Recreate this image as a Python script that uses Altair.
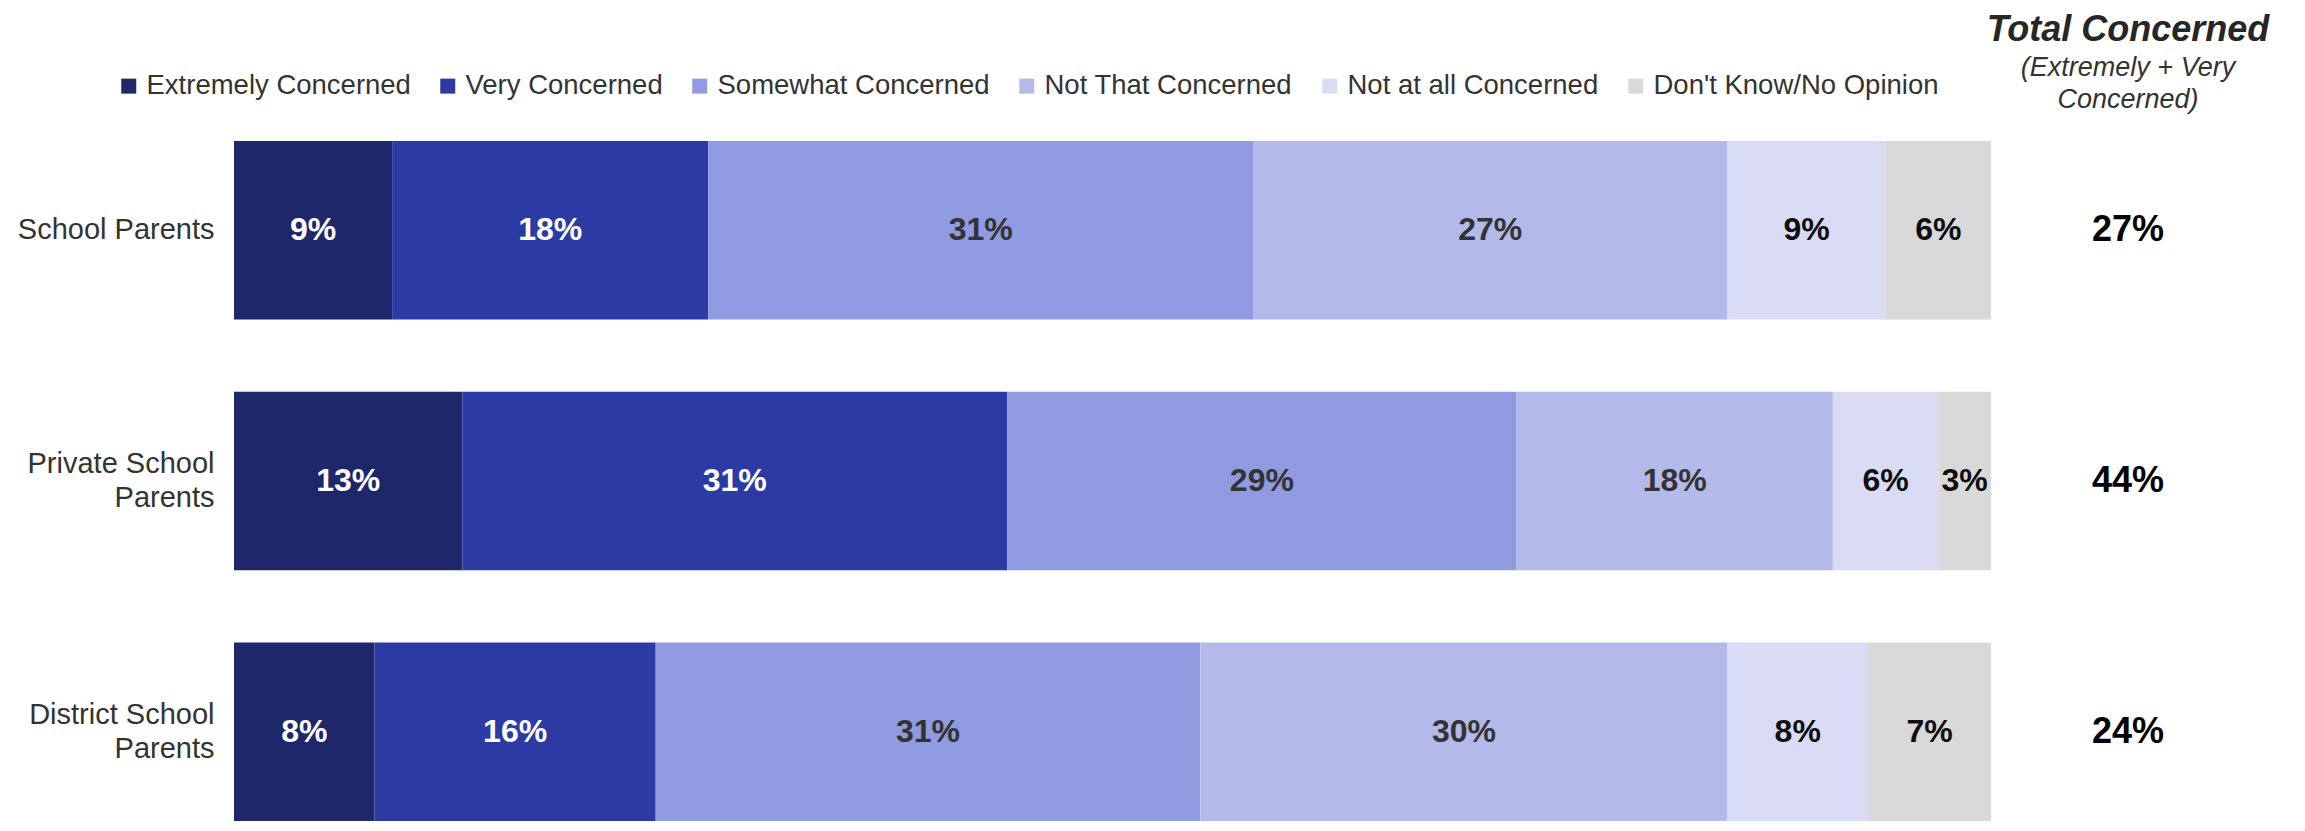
import altair as alt
import pandas as pd

categories = ["School Parents", "Private School Parents", "District School Parents"]
responses = ["Extremely Concerned", "Very Concerned", "Somewhat Concerned",
             "Not That Concerned", "Not at all Concerned", "Don't Know/No Opinion"]
extremely = [9, 13, 8]
very = [18, 31, 16]
somewhat = [31, 29, 31]
not_that = [27, 18, 30]
not_at_all = [9, 6, 8]
dont_know = [6, 3, 7]
total_concerned = [27, 44, 24]
colors = ["#1F276B", "#2C3AA4", "#8F9AE1", "#B3BAEA", "#DADCF6", "#D9D9D9"]

series = [extremely, very, somewhat, not_that, not_at_all, dont_know]
rows = []
for r_i, (resp, vals) in enumerate(zip(responses, series)):
    for cat, v in zip(categories, vals):
        rows.append({"category": cat, "response": resp, "rank": r_i, "value": v})
df = pd.DataFrame(rows)
totals_df = pd.DataFrame({"category": categories, "total": total_concerned,
                          "column": ["Total Concerned"] * len(categories)})

FONT = "Liberation Sans"
PLOT_H = 680
y_scale = alt.Scale(type="band", domain=categories, paddingInner=0.288, paddingOuter=0)

base = alt.Chart(df).transform_stack(
    stack="value", groupby=["category"],
    sort=[alt.SortField(field="rank", order="ascending")], as_=["v0", "v1"]
).transform_calculate(
    mid="(datum.v0 + datum.v1) / 2",
    label="datum.value + '%'",
    label_color="datum.rank < 2 ? 'white' : (datum.rank < 4 ? '#333333' : '#0d0d0d')"
)

two_line = "indexof(datum.value, ' School Parents') > 0"
y_enc = alt.Y("category:N", scale=y_scale, title=None,
              axis=alt.Axis(domain=False, ticks=False, tickSize=0, labelFont=FONT,
                            labelFontSize=29, labelColor="#333333", labelPadding=20,
                            labelLimit=500, labelLineHeight=34,
                            labelOffset={"condition": {"test": two_line, "value": -17}, "value": 0},
                            labelExpr=two_line + " ? [replace(datum.value, ' Parents', ''), 'Parents'] : datum.value"))

x_scale = alt.Scale(domain=[0, 100], nice=False, zero=True)

bars = base.mark_bar().encode(
    x=alt.X("v0:Q", scale=x_scale, axis=None),
    x2="v1:Q",
    y=y_enc,
    color=alt.Color("response:N", scale=alt.Scale(domain=responses, range=colors),
                    legend=alt.Legend(title=None, orient="none", legendX=-119, legendY=-69,
                                      direction="horizontal", columns=6,
                                      symbolType="square", symbolSize=225,
                                      symbolStrokeWidth=0, labelFont=FONT,
                                      labelFontSize=27.5, labelColor="#333333",
                                      labelOffset=4, columnPadding=23, labelLimit=600)),
)

labels = base.mark_text(font=FONT, fontSize=32, fontWeight="bold").encode(
    x=alt.X("mid:Q", scale=x_scale, axis=None),
    y=y_enc,
    text="label:N",
    color=alt.Color("label_color:N", scale=None),
)

left = alt.layer(bars, labels).properties(width=1757, height=PLOT_H)

right = alt.Chart(totals_df).transform_calculate(
    label="datum.total + '%'"
).mark_text(font=FONT, fontSize=36, fontWeight="bold", color="black").encode(
    x=alt.X("column:N", axis=None, title=None),
    y=alt.Y("category:N", scale=y_scale, axis=None),
    text="label:N",
).properties(
    width=274, height=PLOT_H,
    title=alt.TitleParams(
        text="Total Concerned",
        subtitle=["(Extremely + Very", "Concerned)"],
        font=FONT, fontSize=36, fontStyle="italic", fontWeight="bold", color="#262626",
        subtitleFont=FONT, subtitleFontSize=27, subtitleFontStyle="italic",
        subtitleColor="#333333", subtitleLineHeight=32, subtitlePadding=6,
        anchor="middle", offset=27,
    ),
)

chart = alt.hconcat(left, right, spacing=0, bounds="flush").configure_view(
    stroke=None
).properties(
    padding={"left": 9, "top": 4, "right": 5, "bottom": 0},
    background="white",
)

chart.save("out.html", embed_options={"renderer": "svg", "actions": False})
